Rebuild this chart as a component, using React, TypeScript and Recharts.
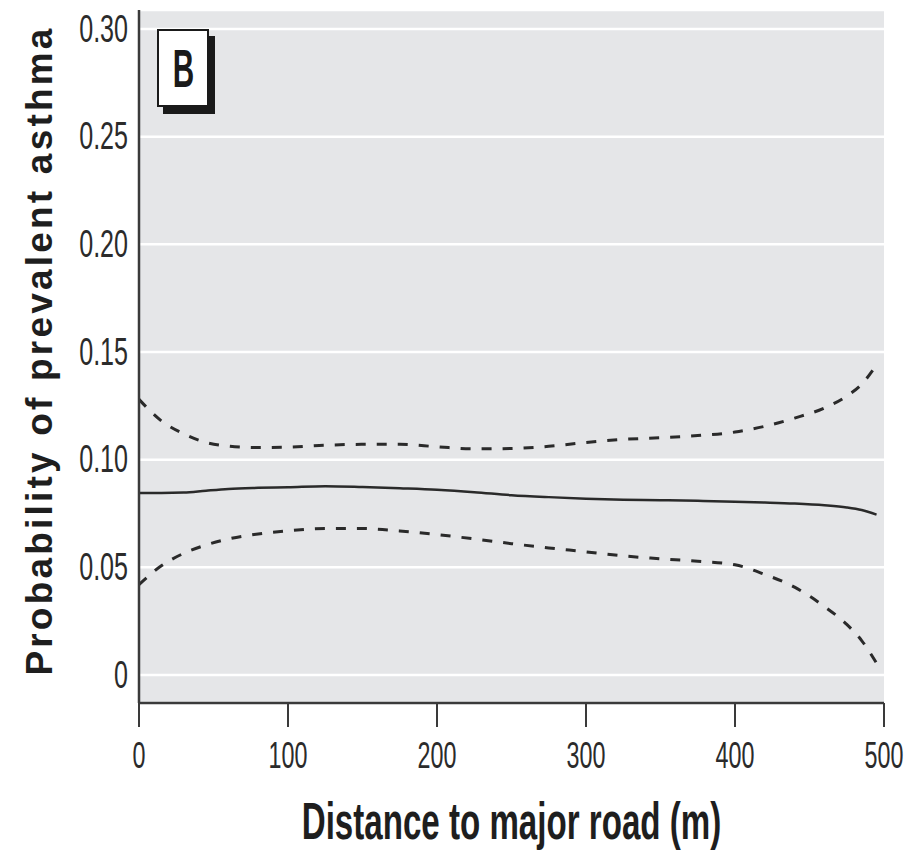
import React from 'react';
import {
  LineChart,
  Line,
  XAxis,
  YAxis,
  CartesianGrid,
  Label,
} from 'recharts';

// distance to major road (m)
const distance = [0, 15, 30, 45, 60, 80, 100, 125, 150, 175, 200, 225, 250, 275, 300, 325, 350, 375, 400, 420, 440, 460, 475, 485, 495];

// fitted probability and 95% bounds
const estimate = [0.0845, 0.0845, 0.0847, 0.0856, 0.0864, 0.0869, 0.0872, 0.0877, 0.0873, 0.0867, 0.086, 0.0849, 0.0835, 0.0826, 0.0819, 0.0814, 0.0812, 0.0809, 0.0805, 0.0801, 0.0796, 0.0788, 0.0778, 0.0766, 0.0745];
const upper = [0.128, 0.118, 0.112, 0.108, 0.1063, 0.1056, 0.1058, 0.1067, 0.1071, 0.1071, 0.106, 0.105, 0.1052, 0.1062, 0.108, 0.1094, 0.1102, 0.1112, 0.1128, 0.1155, 0.1193, 0.124, 0.1295, 0.135, 0.144];
const lower = [0.042, 0.0507, 0.0565, 0.0604, 0.0632, 0.0655, 0.067, 0.068, 0.068, 0.0669, 0.0652, 0.0632, 0.061, 0.059, 0.0572, 0.0553, 0.054, 0.0528, 0.0512, 0.0467, 0.0408, 0.0318, 0.0235, 0.016, 0.0055];

const xTicks = [0, 100, 200, 300, 400, 500];
const yTicks = [0, 0.05, 0.1, 0.15, 0.2, 0.25, 0.3];

const FONT = "'Liberation Sans', Arial, sans-serif";
const INK = '#2b2b2b';

const chartData = distance.map((d, i) => ({
  distance: d,
  estimate: estimate[i],
  upper: upper[i],
  lower: lower[i],
}));

// condensed tick labels (the original uses a narrow Helvetica)
function XTick({ x, y, payload }: any) {
  return (
    <text
      transform={`translate(${x},${y + 41}) scale(0.63,1)`}
      textAnchor="middle"
      fontFamily={FONT}
      fontSize={37}
      fill={INK}
    >
      {payload.value}
    </text>
  );
}

function YTick({ x, y, payload }: any) {
  const v = payload.value === 0 ? '0' : Number(payload.value).toFixed(2);
  return (
    <text
      transform={`translate(${x},${y - 1}) scale(0.66,1)`}
      textAnchor="end"
      dy="0.36em"
      fontFamily={FONT}
      fontSize={38}
      fill={INK}
    >
      {v}
    </text>
  );
}

function XTitle({ viewBox }: any) {
  const cx = viewBox.x + viewBox.width / 2;
  return (
    <text
      transform={`translate(${cx},${viewBox.y + 136}) scale(0.637,1)`}
      textAnchor="middle"
      fontFamily={FONT}
      fontWeight="bold"
      fontSize={52}
      fill="#1e1e1e"
    >
      Distance to major road (m)
    </text>
  );
}

function YTitle({ viewBox }: any) {
  const cy = viewBox.y + viewBox.height / 2 - 6;
  return (
    <text
      transform={`translate(52,${cy}) rotate(-90)`}
      textAnchor="middle"
      fontFamily={FONT}
      fontWeight="bold"
      fontSize={37}
      fill="#1e1e1e"
      letterSpacing={3.2}
    >
      Probability of prevalent asthma
    </text>
  );
}

export default function App() {
  return (
    <div style={{ position: 'absolute', left: 0, top: 0, width: 912, height: 858, background: '#fff' }}>
      <LineChart
        width={912}
        height={858}
        data={chartData}
        margin={{ top: 10, right: 28, bottom: 0, left: 0 }}
      >
        <CartesianGrid
          vertical={false}
          fill="#e5e6e8"
          fillOpacity={1}
          stroke="#ffffff"
          strokeWidth={2.5}
        />
        <XAxis
          dataKey="distance"
          type="number"
          domain={[0, 500]}
          ticks={xTicks}
          height={155}
          tickSize={24}
          tickMargin={0}
          axisLine={{ stroke: '#3a3a3a', strokeWidth: 2.5 }}
          tickLine={{ stroke: '#3a3a3a', strokeWidth: 2 }}
          tick={<XTick />}
        >
          <Label content={<XTitle />} />
        </XAxis>
        <YAxis
          type="number"
          domain={[-0.013, 0.3088]}
          allowDataOverflow
          ticks={yTicks}
          width={139}
          tickSize={0}
          tickMargin={11}
          axisLine={{ stroke: '#3a3a3a', strokeWidth: 2.5 }}
          tickLine={false}
          tick={<YTick />}
        >
          <Label content={<YTitle />} />
        </YAxis>
        <Line
          type="monotone"
          dataKey="upper"
          stroke="#2a2a2a"
          strokeWidth={3}
          strokeDasharray="10 11"
          dot={false}
          activeDot={false}
          isAnimationActive={false}
        />
        <Line
          type="monotone"
          dataKey="lower"
          stroke="#2a2a2a"
          strokeWidth={3}
          strokeDasharray="10 11"
          dot={false}
          activeDot={false}
          isAnimationActive={false}
        />
        <Line
          type="monotone"
          dataKey="estimate"
          stroke="#2a2a2a"
          strokeWidth={2.5}
          dot={false}
          activeDot={false}
          isAnimationActive={false}
        />
      </LineChart>
      {/* panel letter */}
      <div
        style={{
          position: 'absolute',
          left: 157,
          top: 29,
          width: 52,
          height: 78,
          boxSizing: 'border-box',
          background: '#fff',
          border: '2px solid #1a1a1a',
          boxShadow: '6px 7px 0 #1a1a1a',
          display: 'flex',
          alignItems: 'center',
          justifyContent: 'center',
          fontFamily: FONT,
          fontWeight: 'bold',
          fontSize: 54,
          color: '#1a1a1a',
        }}
      >
        <span style={{ display: 'inline-block', transform: 'scaleX(0.55)', lineHeight: 1 }}>B</span>
      </div>
    </div>
  );
}
